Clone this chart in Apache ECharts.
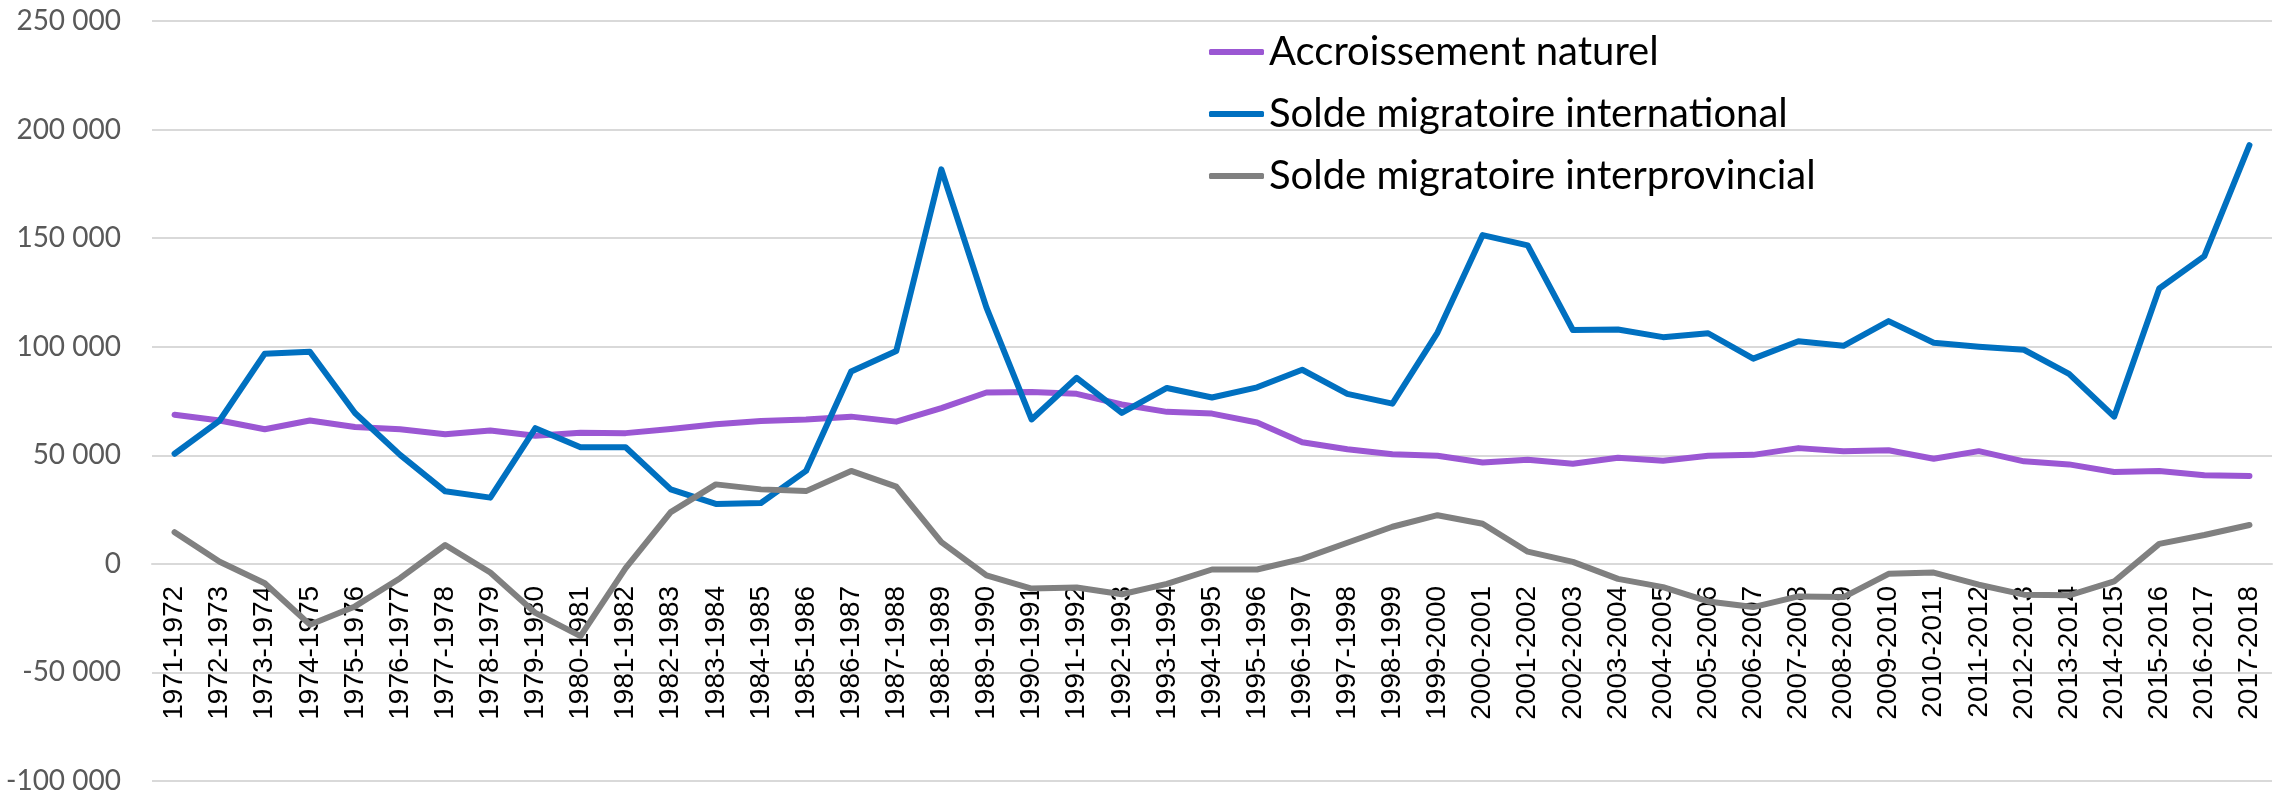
<!DOCTYPE html>
<html>
<head>
    <meta charset="utf-8">
    <title>Accroissement naturel et soldes migratoires</title>
    <style>
        html, body { margin: 0; padding: 0; background: #ffffff; }
        #chart { width: 2280px; height: 796px; }
    </style>
</head>
<body>
    <div id="chart"></div>

    <script src="https://cdn.jsdelivr.net/npm/echarts@6/dist/echarts.min.js"></script>
    <script>
        // années (catégories)
        var periodes = [
            '1971-1972','1972-1973','1973-1974','1974-1975','1975-1976','1976-1977','1977-1978','1978-1979',
            '1979-1980','1980-1981','1981-1982','1982-1983','1983-1984','1984-1985','1985-1986','1986-1987',
            '1987-1988','1988-1989','1989-1990','1990-1991','1991-1992','1992-1993','1993-1994','1994-1995',
            '1995-1996','1996-1997','1997-1998','1998-1999','1999-2000','2000-2001','2001-2002','2002-2003',
            '2003-2004','2004-2005','2005-2006','2006-2007','2007-2008','2008-2009','2009-2010','2010-2011',
            '2011-2012','2012-2013','2013-2014','2014-2015','2015-2016','2016-2017','2017-2018'
        ];

        // noms des séries
        var nomNaturel = 'Accroissement naturel';
        var nomInternational = 'Solde migratoire international';
        var nomInterprovincial = 'Solde migratoire interprovincial';

        // valeurs
        var accroissementNaturel = [
            68700, 66000, 62000, 66000, 63000, 62000, 59700, 61400, 59000, 60400, 60200, 62100,
            64300, 65800, 66500, 67800, 65500, 71700, 78900, 79200, 78300, 73400, 70000, 69200,
            65100, 56000, 52800, 50500, 49800, 46700, 47900, 46100, 48900, 47500, 49800, 50200,
            53300, 51900, 52300, 48400, 51900, 47200, 45800, 42300, 42800, 40800, 40500
        ];
        var soldeInternational = [
            50700, 66000, 96800, 97700, 69500, 50200, 33400, 30500, 62500, 53700, 53700, 34300,
            27600, 28000, 42800, 88600, 98000, 181700, 118000, 66500, 85700, 69500, 81000, 76600,
            81300, 89400, 78300, 73800, 106500, 151400, 146700, 107700, 107900, 104400, 106200, 94500,
            102500, 100400, 111800, 101800, 100000, 98600, 87500, 67800, 126800, 141700, 192800
        ];
        var soldeInterprovincial = [
            14600, 1000, -8900, -28000, -19600, -6600, 8700, -4000, -22600, -33300, -2000, 23800,
            36600, 34300, 33500, 42800, 35600, 10000, -5300, -11400, -10900, -14000, -9200, -2600,
            -2600, 2300, 9700, 17100, 22400, 18500, 5600, 900, -6900, -10700, -17300, -19900,
            -15000, -15300, -4600, -4000, -9600, -14200, -14500, -8100, 9200, 13300, 17900
        ];

        // graduations de l'axe vertical
        var yMin = -100000, yMax = 250000, yPas = 50000;

        var couleurs = ['#9b57d3', '#0070c0', '#808080'];

        // format "250 000"
        function formatMilliers(v) {
            return String(v).replace(/\B(?=(\d{3})+(?!\d))/g, ' ');
        }

        function serieLigne(nom, data, couleur) {
            return {
                name: nom,
                type: 'line',
                data: data,
                symbol: 'none',
                smooth: false,
                lineStyle: { color: couleur, width: 6, cap: 'round', join: 'round' },
                itemStyle: { color: couleur }
            };
        }

        var chart = echarts.init(document.getElementById('chart'), null, { renderer: 'canvas' });

        // hauteur de la zone de tracé et position du zéro
        var hautGrille = 21, basGrille = 15;
        var hauteurTrace = 796 - hautGrille - basGrille;
        var decalageZero = -hauteurTrace * (0 - yMin) / (yMax - yMin);

        var option = {
            backgroundColor: '#ffffff',
            animation: false,
            color: couleurs,
            grid: {
                left: 152,
                right: 8,
                top: hautGrille,
                bottom: basGrille
            },
            legend: {
                orient: 'vertical',
                left: 1204,
                top: 27,
                icon: 'roundRect',
                itemWidth: 55,
                itemHeight: 6,
                itemGap: 22,
                data: [nomNaturel, nomInternational, nomInterprovincial],
                textStyle: {
                    fontFamily: 'Lato',
                    fontSize: 40,
                    lineHeight: 40,
                    color: '#000000'
                }
            },
            xAxis: {
                type: 'category',
                data: periodes,
                boundaryGap: true,
                position: 'bottom',
                offset: decalageZero,
                axisLine: { onZero: false, lineStyle: { color: '#d9d9d9', width: 2 } },
                axisTick: { show: false },
                axisLabel: {
                    rotate: 90,
                    interval: 0,
                    margin: 22,
                    fontFamily: 'Liberation Sans',
                    fontSize: 28,
                    color: '#000000'
                },
                splitLine: { show: false }
            },
            yAxis: {
                type: 'value',
                min: yMin,
                max: yMax,
                interval: yPas,
                axisLine: { show: false },
                axisTick: { show: false },
                axisLabel: {
                    margin: 31,
                    fontFamily: 'Lato',
                    fontSize: 28,
                    color: '#595959',
                    formatter: formatMilliers
                },
                splitLine: { lineStyle: { color: '#d9d9d9', width: 2 } }
            },
            series: [
                serieLigne(nomNaturel, accroissementNaturel, couleurs[0]),
                serieLigne(nomInternational, soldeInternational, couleurs[1]),
                serieLigne(nomInterprovincial, soldeInterprovincial, couleurs[2])
            ]
        };

        chart.setOption(option);
        window.addEventListener('resize', function () {
            chart.resize();
        });
    </script>
</body>
</html>
